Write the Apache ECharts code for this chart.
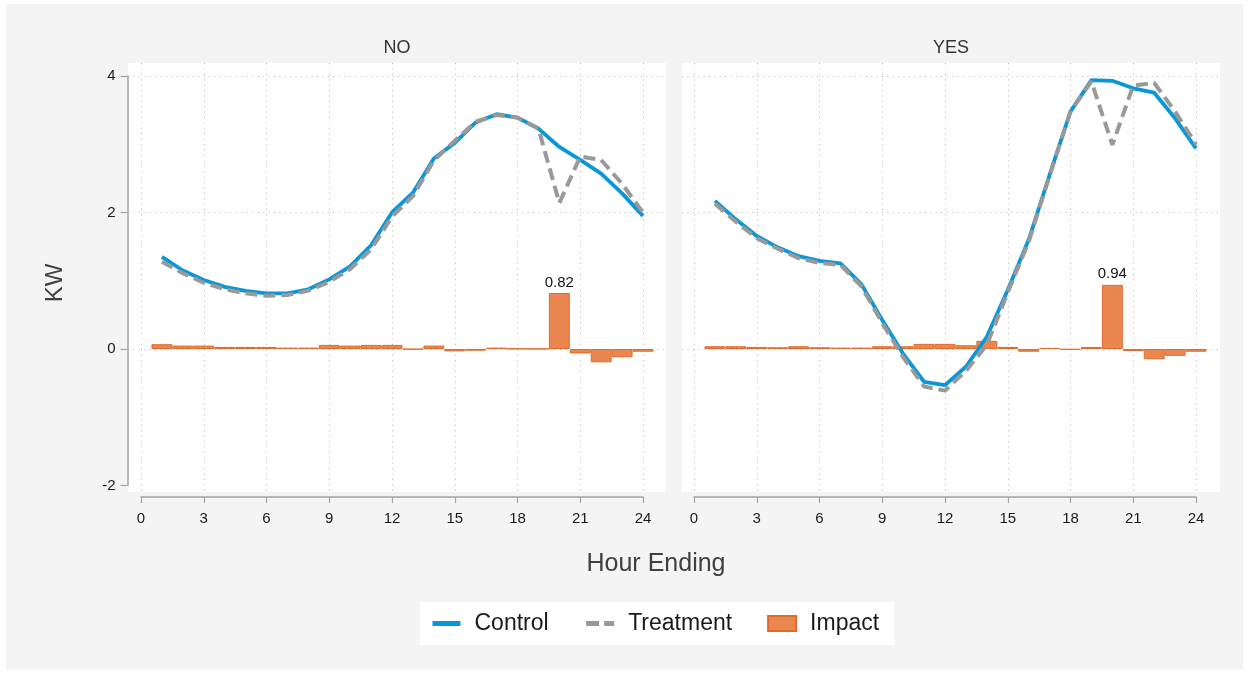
<!DOCTYPE html>
<html>
<head>
<meta charset="utf-8">
<title>Hourly load: Control vs Treatment</title>
<script src="https://cdn.jsdelivr.net/npm/echarts@6/dist/echarts.min.js"></script>
<style>
  html, body { margin: 0; padding: 0; background: #ffffff; }
  #frame { position: absolute; left: 6px; top: 4px; width: 1237px; height: 666px; background: #f4f4f4; }
  #chart { position: absolute; left: 0; top: 0; width: 1249px; height: 673px; }
</style>
</head>
<body>
<div id="frame"></div>
<div id="chart"></div>
<script>
// ---- data ----
const hours = [1, 2, 3, 4, 5, 6, 7, 8, 9, 10, 11, 12, 13, 14, 15, 16, 17, 18, 19, 20, 21, 22, 23, 24];
const panelNames = ['NO', 'YES'];
const legendNames = ['Control', 'Treatment', 'Impact'];

const controlNo   = [1.35, 1.15, 1.01, 0.91, 0.85, 0.815, 0.815, 0.875, 1.02, 1.21, 1.52, 2.00, 2.29, 2.79, 3.02, 3.32, 3.44, 3.39, 3.23, 2.96, 2.77, 2.57, 2.28, 1.95];
const treatmentNo = [1.28, 1.11, 0.97, 0.875, 0.815, 0.78, 0.79, 0.855, 0.985, 1.17, 1.46, 1.94, 2.24, 2.76, 3.05, 3.33, 3.43, 3.39, 3.23, 2.14, 2.82, 2.77, 2.42, 2.00];
const impactNo    = [0.07, 0.05, 0.05, 0.03, 0.03, 0.03, 0.02, 0.02, 0.06, 0.05, 0.06, 0.06, -0.005, 0.05, -0.035, -0.025, 0.02, 0.005, 0.003, 0.82, -0.065, -0.195, -0.12, -0.04];

const controlYes   = [2.17, 1.90, 1.655, 1.49, 1.36, 1.29, 1.255, 0.95, 0.425, -0.07, -0.48, -0.53, -0.26, 0.18, 0.865, 1.60, 2.55, 3.48, 3.94, 3.93, 3.82, 3.755, 3.38, 2.94];
const treatmentYes = [2.13, 1.865, 1.625, 1.47, 1.33, 1.26, 1.23, 0.92, 0.38, -0.12, -0.55, -0.61, -0.32, 0.06, 0.83, 1.57, 2.54, 3.48, 3.92, 2.99, 3.86, 3.90, 3.48, 3.00];
const impactYes    = [0.04, 0.04, 0.03, 0.025, 0.04, 0.025, 0.02, 0.02, 0.04, 0.04, 0.075, 0.075, 0.055, 0.12, 0.03, -0.04, 0.015, -0.01, 0.03, 0.94, -0.03, -0.15, -0.10, -0.04];

const xTicks = [0, 3, 6, 9, 12, 15, 18, 21, 24];
const yTicks = [-2, 0, 2, 4];
const yGridTicks = [0, 2, 4];

// ---- layout & style ----
const FONT = '"Liberation Sans", Arial, Helvetica, sans-serif';
const BLUE = '#0a97d8';
const GREY = '#999999';
const BAR_FILL = '#ea8650';
const BAR_EDGE = '#e2692a';
const AXIS_GREY = '#a3a3a3';

const xMin = 0, xMax = 24, yMin = -2, yMax = 4;
const plotTop = 76, plotHeight = 409.5, axisWidth = 502;
const bgTop = 63, bgBottom = 492;
const panels = [
  { axisLeft: 141, bgLeft: 128, bgRight: 666, control: controlNo,  treatment: treatmentNo,  impact: impactNo },
  { axisLeft: 694, bgLeft: 682, bgRight: 1220, control: controlYes, treatment: treatmentYes, impact: impactYes }
];
const pxPerX = axisWidth / (xMax - xMin);
const pxPerY = plotHeight / (yMax - yMin);

const grids = [], xAxes = [], yAxes = [], series = [];

panels.forEach((p, i) => {
  const bgIdx = 2 * i, dataIdx = 2 * i + 1;

  // white panel with dotted grid lines across its full extent
  grids.push({
    left: p.bgLeft, top: bgTop, width: p.bgRight - p.bgLeft, height: bgBottom - bgTop,
    show: true, backgroundColor: '#ffffff', borderWidth: 0, outerBoundsMode: 'none'
  });
  const gridLine = { show: true, lineStyle: { color: '#c2c2c2', width: 1.1, type: [1.2, 4.2] } };
  xAxes.push({
    type: 'value', gridIndex: bgIdx,
    min: xMin - (p.axisLeft - p.bgLeft) / pxPerX,
    max: xMax + (p.bgRight - (p.axisLeft + axisWidth)) / pxPerX,
    axisLine: { show: false }, axisLabel: { show: false },
    axisTick: { show: false, customValues: xTicks },
    splitLine: gridLine
  });
  yAxes.push({
    type: 'value', gridIndex: bgIdx,
    min: yMin - (bgBottom - (plotTop + plotHeight)) / pxPerY,
    max: yMax + (plotTop - bgTop) / pxPerY,
    axisLine: { show: false }, axisLabel: { show: false },
    axisTick: { show: false, customValues: yGridTicks },
    splitLine: gridLine
  });

  // data area spanning exactly 0..24 hours and -2..4 kW
  grids.push({
    left: p.axisLeft, top: plotTop, width: axisWidth, height: plotHeight,
    show: false, outerBoundsMode: 'none'
  });
  xAxes.push({
    type: 'value', gridIndex: dataIdx, min: xMin, max: xMax, interval: 3,
    position: 'bottom', offset: 11.5,
    axisLine: { show: true, onZero: false, lineStyle: { color: AXIS_GREY, width: 1.5 } },
    axisTick: { show: true, length: 6, lineStyle: { color: AXIS_GREY, width: 1.2 } },
    axisLabel: { fontSize: 15, color: '#1a1a1a', fontFamily: FONT, margin: 14 },
    splitLine: { show: false }
  });
  yAxes.push({
    type: 'value', gridIndex: dataIdx, min: yMin, max: yMax, interval: 2,
    position: 'left', offset: 13.5, show: i === 0,
    axisLine: { show: true, onZero: false, lineStyle: { color: AXIS_GREY, width: 1.5 } },
    axisTick: { show: true, length: 7, lineStyle: { color: AXIS_GREY, width: 1.2 } },
    axisLabel: { fontSize: 15, color: '#1a1a1a', fontFamily: FONT, margin: 12 },
    splitLine: { show: false }
  });

  // the largest impact gets a value label
  let peak = 0;
  p.impact.forEach((v, k) => { if (Math.abs(v) > Math.abs(p.impact[peak])) peak = k; });

  series.push({
    name: legendNames[2], type: 'bar', xAxisIndex: dataIdx, yAxisIndex: dataIdx,
    barWidth: pxPerX, clip: false, z: 2,
    itemStyle: { color: BAR_FILL, borderColor: BAR_EDGE, borderWidth: 1 },
    label: {
      show: false, position: 'top', distance: 3, fontSize: 15, color: '#111111', fontFamily: FONT,
      formatter: (d) => d.value[1].toFixed(2)
    },
    data: p.impact.map((v, k) => k === peak
      ? { value: [hours[k], v], label: { show: true } }
      : [hours[k], v])
  });
  series.push({
    name: legendNames[0], type: 'line', xAxisIndex: dataIdx, yAxisIndex: dataIdx,
    symbol: 'none', clip: false, z: 3,
    lineStyle: { color: BLUE, width: 3.8 }, itemStyle: { color: BLUE },
    data: p.control.map((v, k) => [hours[k], v])
  });
  series.push({
    name: legendNames[1], type: 'line', xAxisIndex: dataIdx, yAxisIndex: dataIdx,
    symbol: 'none', clip: false, z: 4,
    lineStyle: { color: GREY, width: 4, type: [12, 6] }, itemStyle: { color: GREY },
    data: p.treatment.map((v, k) => [hours[k], v])
  });
});

const textStyle = (size, color) => ({
  font: size + 'px ' + FONT, fill: color,
  align: 'center', verticalAlign: 'middle', textAlign: 'center', textVerticalAlign: 'middle'
});

const graphics = [
  { type: 'text', x: (panels[0].bgLeft + panels[0].bgRight) / 2, y: 48,
    style: Object.assign({ text: panelNames[0] }, textStyle(18, '#333333')) },
  { type: 'text', x: (panels[1].bgLeft + panels[1].bgRight) / 2, y: 48,
    style: Object.assign({ text: panelNames[1] }, textStyle(18, '#333333')) },
  { type: 'text', x: 55, y: 283, rotation: Math.PI / 2,
    style: Object.assign({ text: 'KW' }, textStyle(24, '#404040')) },
  { type: 'text', x: 656, y: 564,
    style: Object.assign({ text: 'Hour Ending' }, textStyle(25, '#404040')) }
];

const chart = echarts.init(document.getElementById('chart'), null, { renderer: 'canvas' });
chart.setOption({
  backgroundColor: 'transparent',
  animation: false,
  textStyle: { fontFamily: FONT },
  grid: grids,
  xAxis: xAxes,
  yAxis: yAxes,
  series: series,
  graphic: graphics,
  legend: {
    show: true,
    orient: 'horizontal',
    left: 420, top: 602,
    padding: [10, 15, 10, 10],
    backgroundColor: '#ffffff',
    itemWidth: 28, itemHeight: 15, itemGap: 35,
    formatter: (name) => '{t|' + name + '}',
    textStyle: {
      fontSize: 23, color: '#1a1a1a', fontFamily: FONT,
      rich: { t: { fontSize: 23, color: '#1a1a1a', fontFamily: FONT, padding: [0, 0, 0, 9] } }
    },
    lineStyle: { width: 5 },
    data: [
      { name: legendNames[0], itemStyle: { opacity: 0 } },
      { name: legendNames[1], itemStyle: { opacity: 0 }, lineStyle: { width: 5, type: [13, 5] } },
      { name: legendNames[2], icon: 'rect' }
    ]
  }
});
</script>
</body>
</html>
